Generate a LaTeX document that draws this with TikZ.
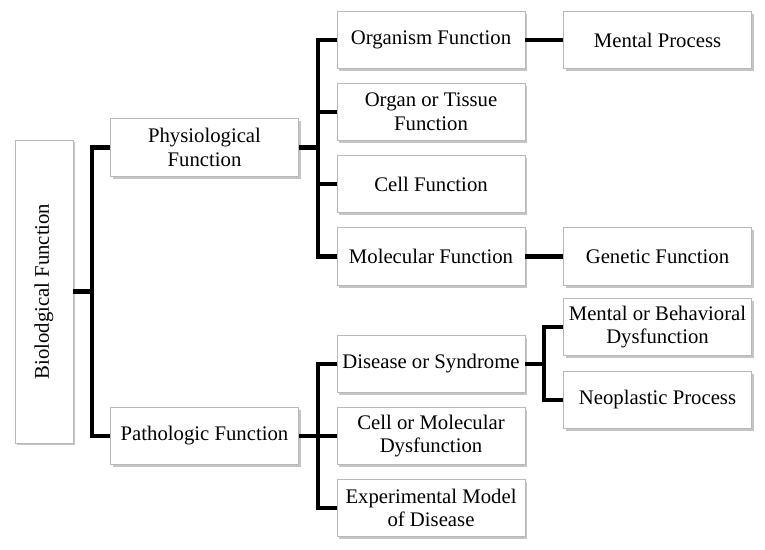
\documentclass[tikz,border=0pt]{standalone}
\usepackage{fontspec}
\usepackage{graphicx}
\setmainfont{Liberation Serif}
\usetikzlibrary{shadows}
\tikzset{
  box/.style={draw=gray!55, line width=0.4pt, fill=white, align=center, inner sep=1pt,
    minimum width=3.76cm, minimum height=1.15cm, font=\fontsize{11.8}{13.4}\selectfont,
    drop shadow={shadow xshift=1.3pt, shadow yshift=-1.3pt, fill=black!45}},
  link/.style={line width=2.3pt}
}
\begin{document}
\begin{tikzpicture}[x=0.02cm, y=-0.02cm]
        \useasboundingbox (0,0) rectangle (765,549);
        \node[box, minimum width=1.16cm, minimum height=6.06cm] (bio) at (44,291.5) {\rotatebox{90}{Biolodgical Function}};
        \node[box] (phys) at (204.5,147.5) {Physiological\\Function};
        \node[box] (patho) at (204.5,436) {Pathologic Function};

        \node[box] (organism) at (431,40) {Organism Function};
        \node[box] (organ) at (431,112) {Organ or Tissue\\Function};
        \node[box] (cell) at (431,184) {Cell Function};
        \node[box] (molec) at (431,256.5) {Molecular Function};
        \node[box] (disease) at (431,364) {Disease or Syndrome};
        \node[box] (cellmol) at (431,436) {Cell or Molecular\\Dysfunction};
        \node[box] (exper) at (431,508) {Experimental Model\\of Disease};

        \node[box] (mental) at (657.5,40) {Mental Process};
        \node[box] (genetic) at (657.5,256.5) {Genetic Function};
        \node[box] (behav) at (657.5,327) {Mental or Behavioral\\Dysfunction};
        \node[box] (neo) at (657.5,400) {Neoplastic Process};

        \coordinate (J1) at (92,291.5);
        \coordinate (J2) at (318,147.5);
        \coordinate (J3) at (318,436);
        \coordinate (J4) at (544,364);

        \draw[link] (bio.east) -- (J1);
        \draw[link] (J1) |- (phys.west);
        \draw[link] (J1) |- (patho.west);

        \draw[link] (phys.east) -- (J2);
        \draw[link] (J2) |- (organism.west);
        \draw[link] (J2) |- (organ.west);
        \draw[link] (J2) |- (cell.west);
        \draw[link] (J2) |- (molec.west);

        \draw[link] (patho.east) -- (J3);
        \draw[link] (J3) |- (disease.west);
        \draw[link] (J3) -- (cellmol.west);
        \draw[link] (J3) |- (exper.west);

        \draw[link] (organism.east) -- (mental.west);
        \draw[link] (molec.east) -- (genetic.west);

        \draw[link] (disease.east) -- (J4);
        \draw[link] (J4) |- (behav.west);
        \draw[link] (J4) |- (neo.west);
      \end{tikzpicture}
\end{document}
